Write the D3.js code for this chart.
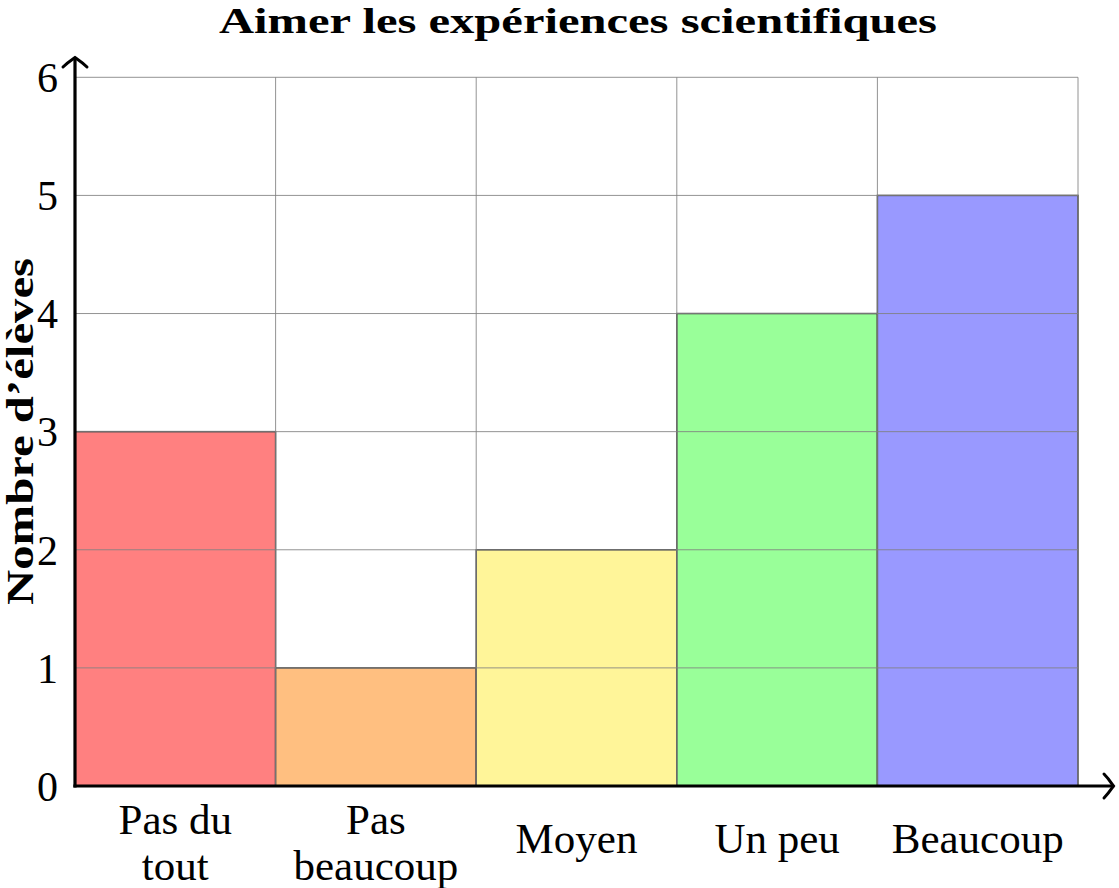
<!DOCTYPE html>
<html><head><meta charset="utf-8">
<script src="https://cdn.jsdelivr.net/npm/d3@7"></script>
<style>body{margin:0;background:#fff}svg{display:block}</style>
</head><body>
<script>
const categories = [["Pas du","tout"],["Pas","beaucoup"],["Moyen"],["Un peu"],["Beaucoup"]];
const values = [3, 1, 2, 4, 5];
const colors = ["#ff8080", "#ffbf80", "#fff599", "#99ff99", "#9999ff"];
const yTicks = [0, 1, 2, 3, 4, 5, 6];
const title = "Aimer les expériences scientifiques";
const yLabel = "Nombre d\u2019élèves";

(function () {
const W = 1119, H = 888;
const pL = 75, pR = 1078, pT = 77.3, pB = 786;
const svg = d3.select("body").append("svg").attr("width", W).attr("height", H);
const font = "'Liberation Serif', 'DejaVu Serif', serif";

const x = d3.scaleBand().domain(d3.range(categories.length)).range([pL, pR]).padding(0);
const y = d3.scaleLinear().domain([0, 6]).range([pB, pT]);

// bars
svg.append("g").selectAll("rect").data(values).join("rect")
  .attr("x", (d, i) => x(i)).attr("y", d => y(d))
  .attr("width", x.bandwidth()).attr("height", d => y(0) - y(d))
  .attr("fill", (d, i) => colors[i]).attr("stroke", "#4a4a4a").attr("stroke-width", 1.5);

// grid on top
const grid = svg.append("g").attr("stroke", "#808080").attr("stroke-opacity", 0.85).attr("stroke-width", 1);
grid.selectAll("line.h").data(yTicks.slice(1)).join("line").attr("class", "h")
  .attr("x1", pL).attr("x2", pR).attr("y1", d => y(d)).attr("y2", d => y(d));
const vx = d3.range(categories.length + 1).map(i => i < categories.length ? x(i) : x(i - 1) + x.bandwidth());
grid.selectAll("line.v").data(vx.slice(1)).join("line").attr("class", "v")
  .attr("x1", d => d).attr("x2", d => d).attr("y1", pT).attr("y2", pB);

// axes
const yAxis = d3.axisLeft(y).tickValues(yTicks).tickFormat(d3.format("d")).tickSize(0).tickPadding(17);
const gy = svg.append("g").attr("transform", `translate(${pL},0)`).call(yAxis);
gy.select(".domain").remove();
gy.attr("font-size", null).attr("font-family", null);
gy.selectAll("text").attr("font-family", font).attr("font-size", 42).attr("fill", "#000").attr("dy", "0.34em");

const xAxis = d3.axisBottom(x).tickSize(0).tickFormat(() => "");
const gx = svg.append("g").attr("transform", `translate(0,${pB})`).call(xAxis);
gx.select(".domain").remove();
gx.attr("font-size", null).attr("font-family", null);
gx.selectAll(".tick").each(function (d) {
  const lines = categories[d];
  const t = d3.select(this).append("text").attr("text-anchor", "middle")
    .attr("font-family", font).attr("font-size", 43).attr("fill", "#000");
  const lh = 46;
  const y0 = lines.length === 1 ? 67 : 48;
  lines.forEach((s, k) => t.append("tspan").attr("x", 0).attr("y", y0 + k * lh).text(s));
});

// axis lines with arrows
const ax = svg.append("g").attr("stroke", "#000").attr("fill", "none").attr("stroke-width", 3.2);
ax.append("line").attr("x1", pL).attr("x2", pL).attr("y1", pB + 1.6).attr("y2", 58);
ax.append("line").attr("x1", pL - 1.6).attr("x2", 1113).attr("y1", pB).attr("y2", pB);
ax.append("path").attr("stroke-width", 3).attr("stroke-linecap", "round")
  .attr("d", `M${pL - 12},${67} C${pL - 7},${62} ${pL - 2},${59} ${pL},${57.5} C${pL + 2},${59} ${pL + 7},${62} ${pL + 12},${67}`);
ax.append("path").attr("stroke-width", 3).attr("stroke-linecap", "round")
  .attr("d", `M1104,${pB - 12} C1109,${pB - 7} 1112,${pB - 2} 1113.5,${pB} C1112,${pB + 2} 1109,${pB + 7} 1104,${pB + 12}`);

// title
svg.append("text").attr("x", 578).attr("y", 33).attr("text-anchor", "middle")
  .attr("font-family", font).attr("font-weight", "bold").attr("font-size", 36)
  .attr("textLength", 718).attr("lengthAdjust", "spacingAndGlyphs").text(title);

// y label
svg.append("text").attr("transform", `translate(33,${431.5}) rotate(-90)`).attr("text-anchor", "middle")
  .attr("font-family", font).attr("font-weight", "bold").attr("font-size", 37)
  .attr("textLength", 347).attr("lengthAdjust", "spacingAndGlyphs").text(yLabel);
})();
</script>
</body></html>
